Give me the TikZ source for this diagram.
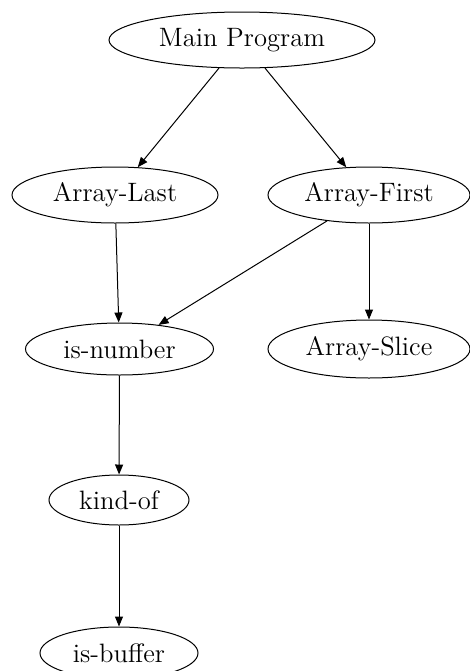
\documentclass[tikz,border=0pt]{standalone}
\usetikzlibrary{shapes.geometric,arrows.meta}
\begin{document}
\begin{tikzpicture}[x=0.5pt,y=-0.5pt,
  every node/.style={font=\fontsize{13.3}{15}\selectfont},
  task/.style={ellipse,draw,line width=0.5pt,inner sep=1pt},
  link/.style={draw,line width=0.5pt,-{Triangle[length=5pt,width=4pt]}}]
  \useasboundingbox (0,0) rectangle (470,671);
  % call graph nodes
  \node[task,minimum width=133pt,minimum height=28pt] (main)   at (242,40)    {Main Program};
  \node[task,minimum width=103pt,minimum height=28pt] (alast)  at (115,195)   {Array-Last};
  \node[task,minimum width=101pt,minimum height=28pt] (afirst) at (369,195)   {Array-First};
  \node[task,minimum width=94pt,minimum height=26pt]  (isnum)  at (119.5,349) {is-number};
  \node[task,minimum width=101pt,minimum height=29pt] (aslice) at (369,349)   {Array-Slice};
  \node[task,minimum width=70pt,minimum height=25pt]  (kindof) at (119,500)   {kind-of};
  \node[task,minimum width=79pt,minimum height=26pt]  (isbuf)  at (119,653)   {is-buffer};
  % dependencies
  \draw[link] (main) -- (alast);
  \draw[link] (main) -- (afirst);
  \draw[link] (alast) -- (isnum);
  \draw[link] (afirst) -- (isnum);
  \draw[link] (afirst) -- (aslice);
  \draw[link] (isnum) -- (kindof);
  \draw[link] (kindof) -- (isbuf);
\end{tikzpicture}
\end{document}
